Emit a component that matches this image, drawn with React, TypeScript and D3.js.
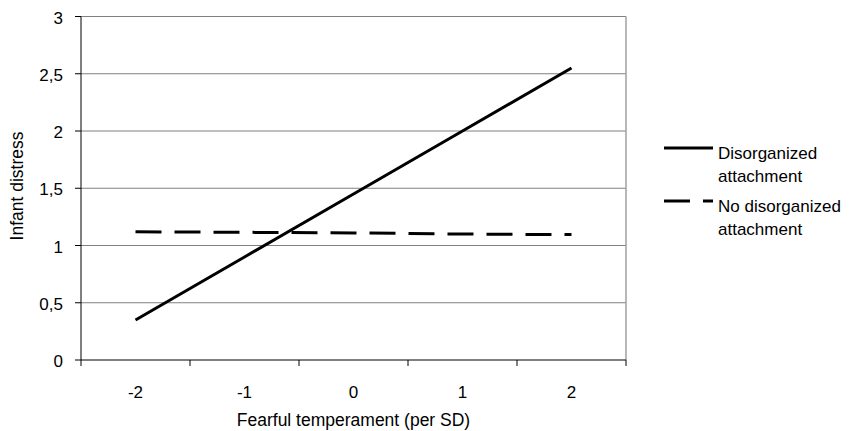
import React from 'react';
import * as d3 from 'd3';

const categories = ['-2', '-1', '0', '1', '2'];
const disorganized = [0.35, 0.9, 1.45, 2.0, 2.55];
const noDisorganized = [1.12, 1.115, 1.11, 1.1, 1.095];
const yTicks = [0, 0.5, 1, 1.5, 2, 2.5, 3];
const seriesNames = [
  ['Disorganized', 'attachment'],
  ['No disorganized', 'attachment'],
];

const W = 858;
const H = 431;
const left = 81;
const right = 626;
const top = 16.5;
const bottom = 360;
const font = '"Liberation Sans", Arial, sans-serif';

export default function App() {
  const x = d3.scaleBand().domain(categories).range([left, right]);
  const y = d3.scaleLinear().domain([0, 3]).range([bottom, top]);
  const cx = (c: string) => (x(c) as number) + x.bandwidth() / 2;

  const line = d3.line<number>()
    .x((_, i) => cx(categories[i]))
    .y(d => y(d));

  const dashes = ['', '26 13'];
  const legendY = [148, 201];

  return (
    <svg width={W} height={H} style={{ position: 'absolute', left: 0, top: 0, fontFamily: font }}>
      <rect width={W} height={H} fill="#fff" />
      {/* grid */}
      {yTicks.filter(t => t > 0).map(t => (
        <line key={t} x1={left} x2={right} y1={y(t)} y2={y(t)} stroke="#808080" strokeWidth={1} />
      ))}
      <line x1={right} x2={right} y1={top} y2={bottom} stroke="#a0a0a0" strokeWidth={1.5} />
      {/* axes */}
      <line x1={left} x2={left} y1={top} y2={bottom} stroke="#000" strokeWidth={1} />
      <line x1={left} x2={right} y1={bottom} y2={bottom} stroke="#000" strokeWidth={1} />
      {yTicks.map(t => (
        <g key={t}>
          <line x1={left - 6} x2={left} y1={y(t)} y2={y(t)} stroke="#000" />
          <text x={63} y={y(t) + 7} textAnchor="end" fontSize={17}>{String(t).replace('.', ',')}</text>
        </g>
      ))}
      {[...categories.map(c => x(c) as number), right].map((p, i) => (
        <line key={i} x1={p} x2={p} y1={bottom} y2={bottom + 6} stroke="#000" />
      ))}
      {categories.map(c => (
        <text key={c} x={cx(c)} y={398} textAnchor="middle" fontSize={17}>{c}</text>
      ))}
      <text x={(left + right) / 2} y={426} textAnchor="middle" fontSize={17.5}>Fearful temperament (per SD)</text>
      <text transform={`translate(23 ${186}) rotate(-90)`} textAnchor="middle" fontSize={17.5}>Infant distress</text>
      {/* series */}
      <path d={line(disorganized) || ''} fill="none" stroke="#000" strokeWidth={3} />
      <path d={line(noDisorganized) || ''} fill="none" stroke="#000" strokeWidth={3} strokeDasharray="26 13" />
      {/* legend */}
      {seriesNames.map((n, i) => (
        <g key={i}>
          <line x1={664} x2={713} y1={legendY[i]} y2={legendY[i]} stroke="#000" strokeWidth={3} strokeDasharray={dashes[i] || undefined} />
          <text x={718} y={legendY[i] + 11} fontSize={17}>{n[0]}</text>
          <text x={718} y={legendY[i] + 34} fontSize={17}>{n[1]}</text>
        </g>
      ))}
    </svg>
  );
}
